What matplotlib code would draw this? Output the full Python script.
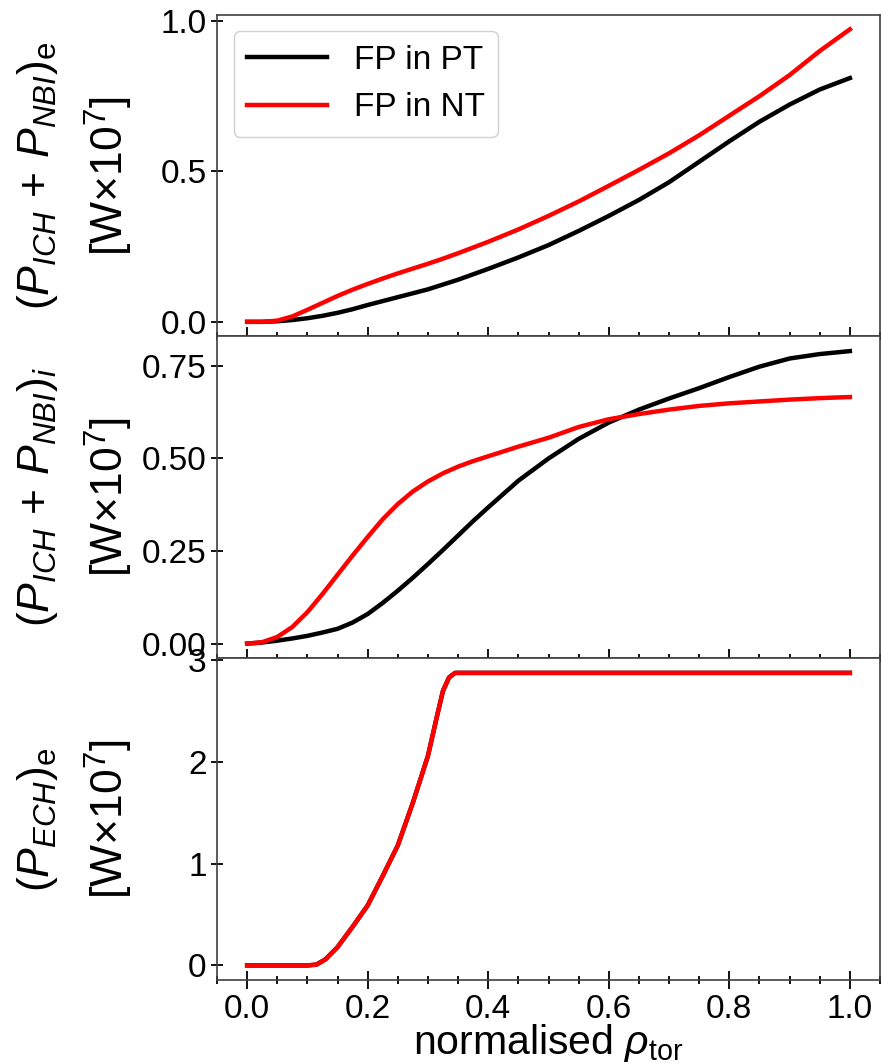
import matplotlib
matplotlib.use("Agg")
import matplotlib.pyplot as plt
from matplotlib.ticker import MultipleLocator

plt.rcParams["font.family"] = ["Liberation Sans", "DejaVu Sans"]
plt.rcParams["mathtext.fontset"] = "custom"
plt.rcParams["mathtext.rm"] = "Liberation Sans"
plt.rcParams["mathtext.it"] = "Liberation Sans:italic"
plt.rcParams["mathtext.bf"] = "Liberation Sans:bold"

# normalised toroidal radius grid
rho = [0.0, 0.025, 0.05, 0.075, 0.1, 0.125, 0.15, 0.175, 0.2, 0.225, 0.25,
       0.275, 0.3, 0.325, 0.35, 0.375, 0.4, 0.45, 0.5, 0.55, 0.6, 0.65, 0.7,
       0.75, 0.8, 0.85, 0.9, 0.95, 1.0]

# integrated ICH + NBI power to electrons [10^7 W]
pe_pt = [0.0, 0.0, 0.002, 0.006, 0.012, 0.02, 0.03, 0.042, 0.056, 0.069,
         0.082, 0.095, 0.108, 0.124, 0.14, 0.158, 0.176, 0.214, 0.255, 0.302,
         0.352, 0.405, 0.464, 0.532, 0.6, 0.665, 0.722, 0.772, 0.81]
pe_nt = [0.0, 0.0, 0.004, 0.018, 0.04, 0.063, 0.086, 0.107, 0.126, 0.144,
         0.161, 0.177, 0.193, 0.21, 0.228, 0.247, 0.266, 0.307, 0.352, 0.4,
         0.452, 0.505, 0.56, 0.62, 0.685, 0.75, 0.82, 0.9, 0.972]

# integrated ICH + NBI power to ions [10^7 W]
pi_pt = [0.0, 0.003, 0.008, 0.014, 0.021, 0.03, 0.04, 0.057, 0.08, 0.11,
         0.143, 0.178, 0.215, 0.253, 0.292, 0.331, 0.368, 0.44, 0.5, 0.553,
         0.597, 0.632, 0.662, 0.69, 0.72, 0.748, 0.77, 0.782, 0.79]
pi_nt = [0.0, 0.004, 0.018, 0.045, 0.085, 0.134, 0.186, 0.238, 0.288, 0.336,
         0.377, 0.411, 0.438, 0.46, 0.478, 0.493, 0.506, 0.532, 0.556, 0.585,
         0.606, 0.62, 0.632, 0.642, 0.649, 0.654, 0.659, 0.663, 0.666]

# integrated ECH power to electrons [10^7 W]
rho_ech = [0.0, 0.05, 0.1, 0.115, 0.13, 0.15, 0.175, 0.2, 0.225, 0.25, 0.275,
           0.3, 0.315, 0.325, 0.335, 0.345, 0.4, 0.5, 0.6, 0.7, 0.8, 0.9, 1.0]
pech_pt = [0.0, 0.0, 0.0, 0.008, 0.06, 0.18, 0.38, 0.59, 0.88, 1.18, 1.6,
           2.06, 2.45, 2.7, 2.83, 2.875, 2.875, 2.875, 2.875, 2.875, 2.875,
           2.875, 2.875]
pech_nt = list(pech_pt)

labels = ["FP in PT", "FP in NT"]
colors = ["black", "red"]

fig, axes = plt.subplots(3, 1, sharex=True, figsize=(8.81, 10.64), dpi=100)
fig.subplots_adjust(left=0.2463, right=0.9989, top=0.9862, bottom=0.0789,
                    hspace=0.0)

series = [
    (rho, pe_pt, pe_nt, r"$(P_{ICH}\,+\,P_{NBI})_\mathrm{e}$"),
    (rho, pi_pt, pi_nt, r"$(P_{ICH}\,+\,P_{NBI})_{i}$"),
    (rho_ech, pech_pt, pech_nt, r"$(P_{ECH})_\mathrm{e}$"),
]

for ax, (x, y_pt, y_nt, name) in zip(axes, series):
    ax.plot(x, y_pt, color=colors[0], lw=3.2, label=labels[0])
    ax.plot(x, y_nt, color=colors[1], lw=3.2, label=labels[1])
    ax.set_ylabel(name + "\n" + r"[W$\times$10$^{7}$]", fontsize=32,
                  linespacing=1.55)
    ax.yaxis.set_label_coords(-0.124, 0.5)
    ax.tick_params(axis="both", which="both", direction="inout",
                   labelsize=24, width=1.3, color="black")
    ax.tick_params(axis="y", which="major", length=8)
    ax.tick_params(axis="x", which="major", length=13)
    ax.tick_params(axis="x", which="minor", length=6)
    ax.xaxis.set_major_locator(MultipleLocator(0.2))
    ax.xaxis.set_minor_locator(MultipleLocator(0.05))
    for s in ax.spines.values():
        s.set_color("#404040")
        s.set_linewidth(1.2)

axes[0].yaxis.set_major_locator(MultipleLocator(0.5))
axes[1].yaxis.set_major_locator(MultipleLocator(0.25))
axes[2].yaxis.set_major_locator(MultipleLocator(1))

axes[0].legend(loc="upper left", fontsize=24, handlelength=2.4,
               borderaxespad=0.5, frameon=True, fancybox=True,
               edgecolor="#d0d0d0", framealpha=1.0)

axes[2].set_xlabel(r"normalised $\rho_{\mathrm{tor}}$", fontsize=29.5,
                   labelpad=-2)

fig.savefig("out.png", dpi=100)
